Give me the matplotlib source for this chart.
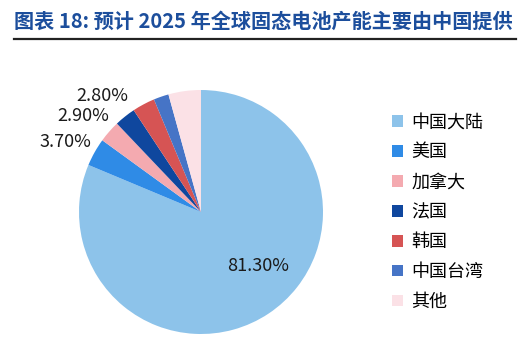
import matplotlib
matplotlib.use("Agg")
import matplotlib.pyplot as plt
import numpy as np
from matplotlib.patches import Patch

plt.rcParams['font.family'] = ['Noto Sans CJK SC', 'DejaVu Sans']

categories = ['中国大陆', '美国', '加拿大', '法国', '韩国', '中国台湾', '其他']
values = [81.3, 3.7, 2.9, 2.8, 3.0, 2.0, 4.3]
shown_labels = ['81.30%', '3.70%', '2.90%', '2.80%', '', '', '']
colors = ['#8DC3EA', '#2F8BE6', '#F4AAB0', '#0F479E', '#D65454', '#4674C6', '#FBE1E6']
title = '图表 18: 预计 2025 年全球固态电池产能主要由中国提供'

fig = plt.figure(figsize=(5.22, 3.48), dpi=100)
fig.patch.set_facecolor('white')

# title + rule
fig.text(0.027, 0.938, title, fontsize=14.5, fontweight='bold', color='#1C4E9C',
         ha='left', va='center')
fig.add_artist(plt.Line2D([0.027, 0.988], [0.887, 0.887], color='#222222', lw=1.6,
                          transform=fig.transFigure))

ax = fig.add_axes([79/522, 14/348, 244/522, 244/348])
wedges, _ = ax.pie(values, colors=colors, startangle=90, counterclock=False,
                   radius=1.0, wedgeprops=dict(linewidth=0))
ax.set_xlim(-1, 1)
ax.set_ylim(-1, 1)
ax.set_aspect('equal')
ax.axis('off')

for i, (w, lab) in enumerate(zip(wedges, shown_labels)):
    if not lab:
        continue
    mid = np.deg2rad((w.theta1 + w.theta2) / 2)
    if i == 0:
        ang = mid + np.deg2rad(13)
        r = 0.64
    else:
        ang = mid + np.deg2rad(2.0)
        r = 1.25
    ax.text(r * np.cos(ang), r * np.sin(ang), lab, ha='center', va='center',
            fontsize=13, color='#1a1a1a')

handles = [Patch(facecolor=c, edgecolor='none') for c in colors]
fig.legend(handles, categories, loc='center left', bbox_to_anchor=(0.738, 0.39),
           frameon=False, fontsize=13, handlelength=0.6, handleheight=0.6,
           handletextpad=0.45, labelspacing=0.66, borderaxespad=0)

fig.savefig('out.png', dpi=100, facecolor='white')
